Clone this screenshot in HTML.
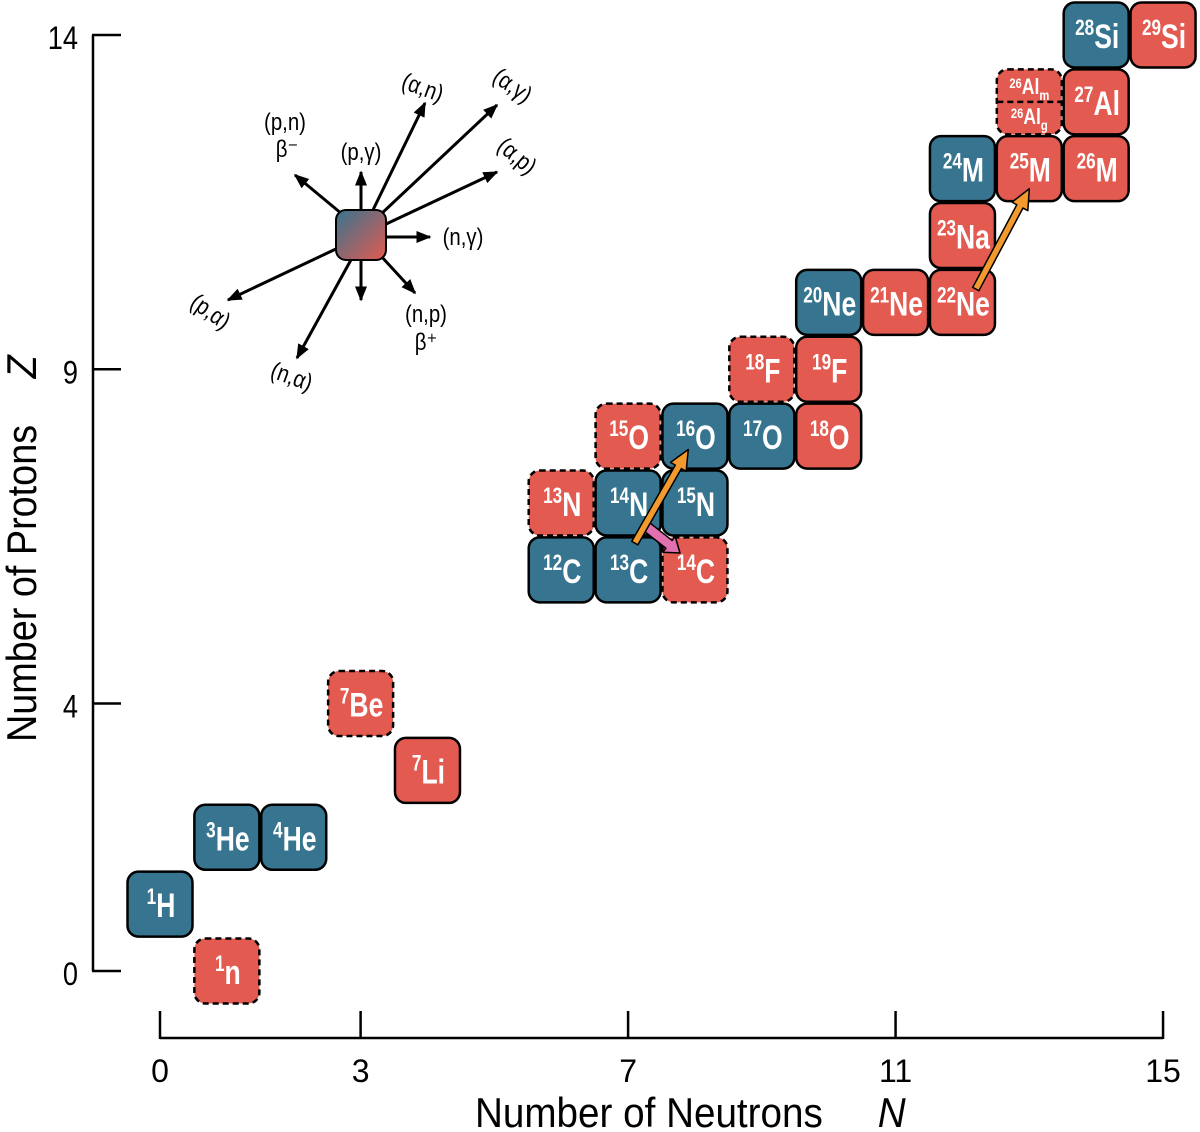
<!DOCTYPE html>
<html><head><meta charset="utf-8"><style>
html,body{margin:0;padding:0;background:#fff;}
svg{display:block;font-family:"Liberation Sans Narrow","Liberation Sans",sans-serif;}
</style></head><body>
<svg id="chart" width="1200" height="1132" viewBox="0 0 1200 1132" xmlns="http://www.w3.org/2000/svg">
<defs>
<linearGradient id="grad" x1="0" y1="0" x2="1" y2="1">
<stop offset="0" stop-color="#37748f"/><stop offset="1" stop-color="#e35a50"/>
</linearGradient>
<marker id="ah" viewBox="0 0 10 10" refX="9" refY="5" markerWidth="5" markerHeight="5" orient="auto"><path d="M0,1 L10,5 L0,9 Z" fill="#000"/></marker>
</defs>
<g id="axes"></g>
<g id="boxes"></g>
<g id="flows"></g>
<g id="legend-diagram"></g>
</svg>
<script>
const massNumbers = [1,1,3,4,7,7,12,13,14,13,14,15,15,16,17,18,18,19,20,21,22,23,24,25,26,26,27,28,29];
const symbols = ["n","H","He","He","Be","Li","C","C","C","N","N","N","O","O","O","O","F","F","Ne","Ne","Ne","Na","M","M","M","Al","Al","Si","Si"];
const neutrons = [1,0,1,2,3,4,6,7,8,6,7,8,7,8,9,10,9,10,10,11,12,12,12,13,14,13,14,14,15];
const protons  = [0,1,2,2,4,3,6,6,6,7,7,7,8,8,8,8,9,9,10,10,10,11,12,12,12,13,13,14,14];
const stable   = [0,1,1,1,0,0,1,1,0,0,1,1,0,1,1,0,0,0,1,0,0,0,1,0,0,0,0,1,0];
const unstableDashed = [1,0,0,0,1,0,0,0,1,1,0,0,1,0,0,0,1,0,0,0,0,0,0,0,0,1,0,0,0];
const xTicks = [0,3,7,11,15];
const yTicks = [0,4,9,14];
const flowFrom = [[7.1,6.4],[12.2,10.2]];
const flowTo = [[7.9,7.8],[13.0,11.7]];

const NS="http://www.w3.org/2000/svg";
const xs = n => 160 + n*66.87;
const ys = z => 971 - z*66.86;
function mk(tag, attrs, parent){const e=document.createElementNS(NS,tag);for(const k in attrs)e.setAttribute(k,attrs[k]);parent.appendChild(e);return e;}
const axes=document.getElementById('axes'), boxes=document.getElementById('boxes'), flows=document.getElementById('flows'), diag=document.getElementById('legend-diagram');

let yl=mk('line',{x1:93,y1:ys(14),x2:93,y2:ys(0),stroke:'#000','stroke-width':2.5},axes);


yTicks.forEach(t=>{
  let l=mk('line',{x1:92,y1:ys(t),x2:121,y2:ys(t),stroke:'#000','stroke-width':2.5},axes);
  
  
  let tx=mk('text',{x:0,y:0,'text-anchor':'end','font-size':32,fill:'#000',transform:'translate(78,'+(ys(t)+14)+') scale(0.85,1)'},axes);
  tx.textContent=t;
  
  
});
let xl=mk('line',{x1:xs(0),y1:1038,x2:xs(15),y2:1038,stroke:'#000','stroke-width':2.5},axes);


xTicks.forEach(t=>{
  let l=mk('line',{x1:xs(t),y1:1011,x2:xs(t),y2:1039,stroke:'#000','stroke-width':2.5},axes);
  
  
  let tx=mk('text',{x:xs(t),y:1082,'text-anchor':'middle','font-size':32,fill:'#000'},axes);
  tx.textContent=t;
  
  
});
let xt=mk('text',{x:0,y:0,'font-size':42,fill:'#000',transform:'translate(475,1127) scale(0.92,1)'},axes);
xt.innerHTML='Number of Neutrons <tspan dx="48" font-style="italic">N</tspan>';


let yt=mk('text',{x:0,y:0,'font-size':42,fill:'#000',transform:'translate(36,742) rotate(-90) scale(0.9,1)'},axes);
yt.innerHTML='Number of Protons <tspan dx="40" font-style="italic">Z</tspan>';



for(let i=0;i<symbols.length;i++){
  const cx=xs(neutrons[i]), cy=ys(protons[i]);
  const g=mk('g',{},boxes);
  
  
  const attrs={x:cx-32.5,y:cy-32.5,width:65,height:65,rx:11,fill:stable[i]?'#37748f':'#e35a50',stroke:'#000','stroke-width':2.5};
  if(unstableDashed[i]) attrs['stroke-dasharray']='6,4';
  mk('rect',attrs,g);
  if(symbols[i]==='Al' && massNumbers[i]===26){
    mk('line',{x1:cx-32,y1:cy,x2:cx+32,y2:cy,stroke:'#000','stroke-width':2.5,'stroke-dasharray':'6,4'},g);
    let a=mk('text',{x:0,y:0,'text-anchor':'middle','font-size':22,'font-weight':'bold',fill:'#fff',transform:'translate('+cx+','+(cy-8)+') scale(0.8,1)'},g);
    a.innerHTML='<tspan font-size="14" dy="-6">26</tspan><tspan dy="6">Al</tspan><tspan font-size="14" dy="6">m</tspan>';
    let b=mk('text',{x:0,y:0,'text-anchor':'middle','font-size':22,'font-weight':'bold',fill:'#fff',transform:'translate('+cx+','+(cy+22)+') scale(0.8,1)'},g);
    b.innerHTML='<tspan font-size="14" dy="-6">26</tspan><tspan dy="6">Al</tspan><tspan font-size="14" dy="6">g</tspan>';
    continue;
  }
  let t=mk('text',{x:0,y:0,'text-anchor':'middle','font-size':34,'font-weight':'bold',fill:'#fff',transform:'translate('+(cx+1)+','+(cy+13)+') scale(0.78,1)'},g);
  t.innerHTML='<tspan font-size="22" dy="-13">'+massNumbers[i]+'</tspan><tspan dy="13">'+symbols[i]+'</tspan>';
}

function fatArrow(x1,y1,x2,y2,w,hw,hl,color,name){
  const dx=x2-x1,dy=y2-y1,L=Math.hypot(dx,dy),ux=dx/L,uy=dy/L,px=-uy,py=ux;
  const bx=x2-ux*hl,by=y2-uy*hl;
  const pts=[[x1+px*w,y1+py*w],[bx+px*w,by+py*w],[bx+px*hw,by+py*hw],[x2,y2],[bx-px*hw,by-py*hw],[bx-px*w,by-py*w],[x1-px*w,y1-py*w]];
  const p=mk('polygon',{points:pts.map(q=>q.join(',')).join(' '),fill:color,stroke:'#000','stroke-width':1.5,'stroke-linejoin':'round'},flows);
  
  
}
fatArrow(647,527,680,553,5,10,14,'#e070b0','pink-arrow');
for(let i=0;i<flowFrom.length;i++){
  fatArrow(xs(flowFrom[i][0]),ys(flowFrom[i][1]),xs(flowTo[i][0]),ys(flowTo[i][1]),3.5,9,20,'#f29a2e','orange-arrow');
}

const rEnds=[[361,172],[295,175],[425,103],[497,105],[497,172],[430,237],[415,293],[361,300],[228,300],[297,358]];
const rStarts=[[361,212],[342,214],[372,212],[380,215],[384,225],[386,237],[380,255],[361,258],[338,248],[352,258]];
rEnds.forEach((e,i)=>{
  const l=mk('line',{x1:rStarts[i][0],y1:rStarts[i][1],x2:e[0],y2:e[1],stroke:'#000','stroke-width':3,'marker-end':'url(#ah)'},diag);
  
  
});
mk('rect',{x:336,y:210,width:50,height:50,rx:10,fill:'url(#grad)',stroke:'#000','stroke-width':2},diag);
const labels=[["(p,n)",285,130,0],["β⁻",287,157,0],["(p,γ)",361,160,0],["(α,n)",420,95,20],["(α,γ)",508,92,35],["(α,p)",512,162,40],["(n,γ)",463,245,0],["(n,p)",426,322,0],["β⁺",426,350,0],["(p,α)",206,318,35],["(n,α)",289,384,20]];
labels.forEach(L=>{
  const t=mk('text',{x:0,y:0,'text-anchor':'middle','font-size':24,fill:'#000',transform:'translate('+L[1]+','+L[2]+') rotate('+L[3]+') scale(0.85,1)'},diag);
  t.textContent=L[0];
  
  
});
</script>
</body></html>
